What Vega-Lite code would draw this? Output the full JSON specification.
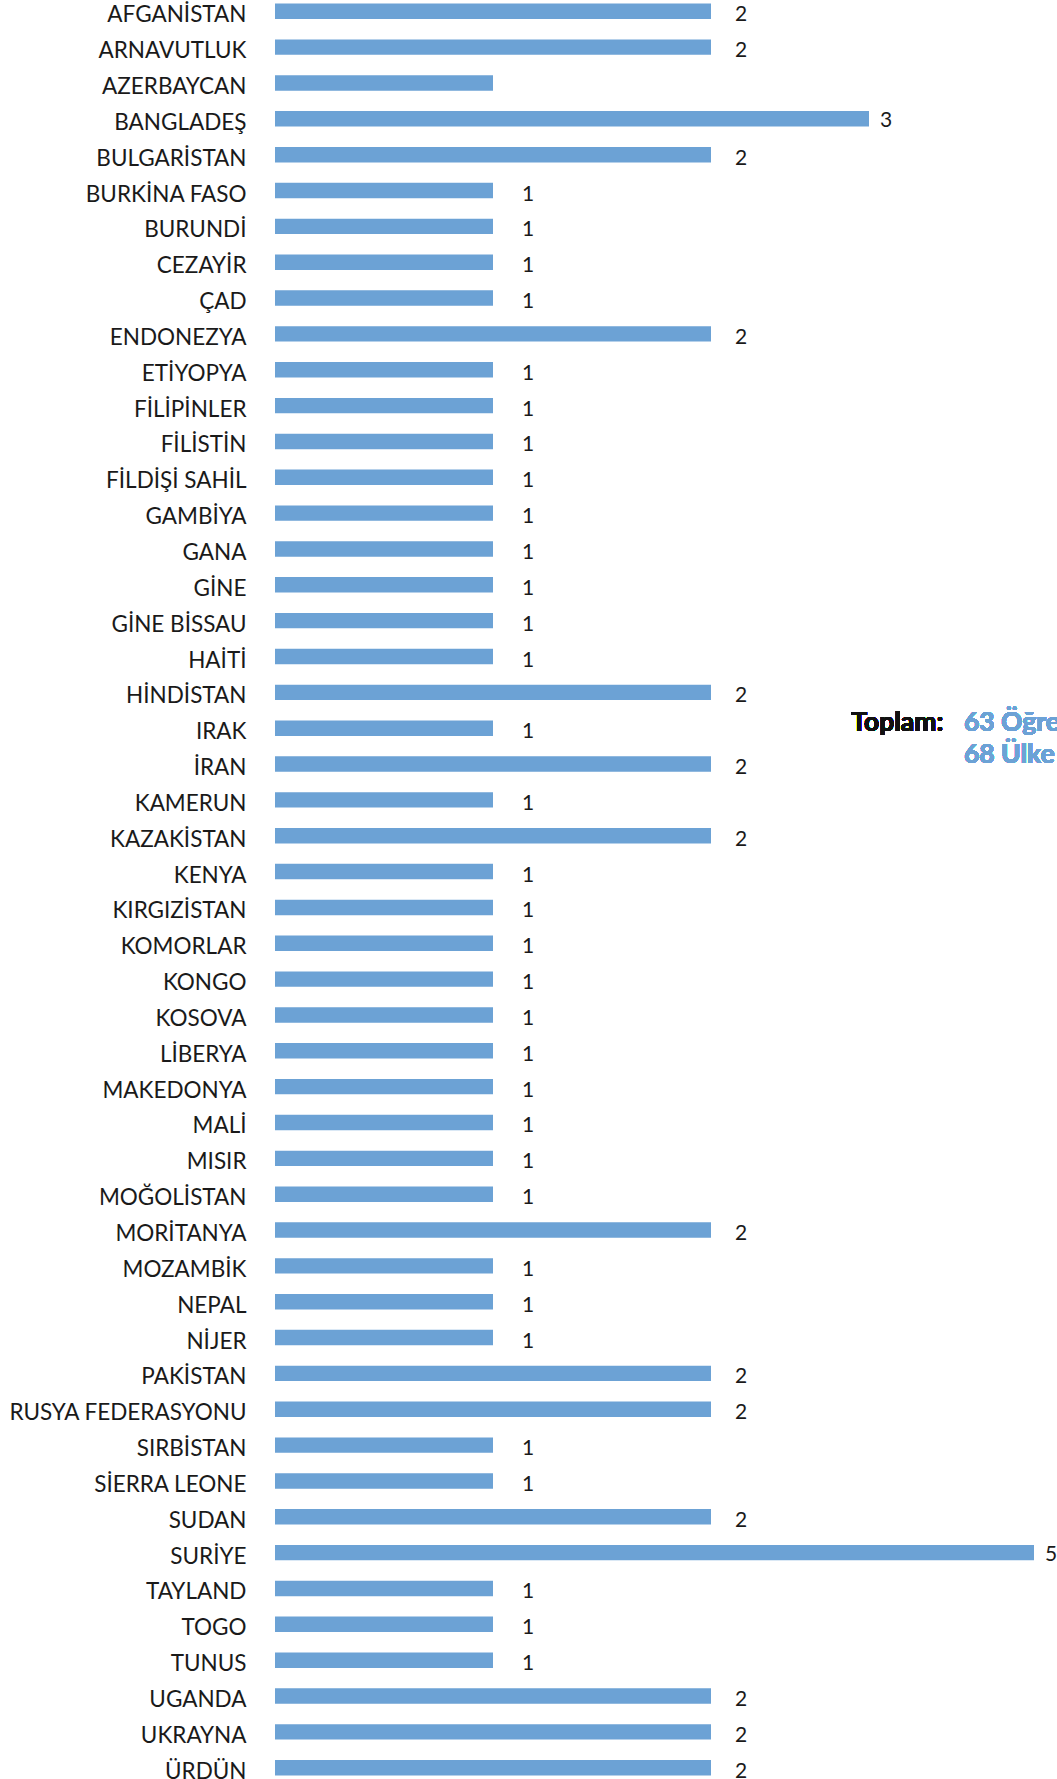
{
  "$schema": "https://vega.github.io/schema/vega-lite/v6.json",
  "width": 782,
  "height": 1779,
  "autosize": "none",
  "padding": {"left": 275, "top": 0, "right": 0, "bottom": 0},
  "background": "white",
  "config": {"view": {"stroke": null}, "font": "Lato"},
  "data": {"values": [
    {"ulke": "AFGANİSTAN", "deger": 2},
    {"ulke": "ARNAVUTLUK", "deger": 2},
    {"ulke": "AZERBAYCAN", "deger": 1},
    {"ulke": "BANGLADEŞ", "deger": 3},
    {"ulke": "BULGARİSTAN", "deger": 2},
    {"ulke": "BURKİNA FASO", "deger": 1},
    {"ulke": "BURUNDİ", "deger": 1},
    {"ulke": "CEZAYİR", "deger": 1},
    {"ulke": "ÇAD", "deger": 1},
    {"ulke": "ENDONEZYA", "deger": 2},
    {"ulke": "ETİYOPYA", "deger": 1},
    {"ulke": "FİLİPİNLER", "deger": 1},
    {"ulke": "FİLİSTİN", "deger": 1},
    {"ulke": "FİLDİŞİ SAHİL", "deger": 1},
    {"ulke": "GAMBİYA", "deger": 1},
    {"ulke": "GANA", "deger": 1},
    {"ulke": "GİNE", "deger": 1},
    {"ulke": "GİNE BİSSAU", "deger": 1},
    {"ulke": "HAİTİ", "deger": 1},
    {"ulke": "HİNDİSTAN", "deger": 2},
    {"ulke": "IRAK", "deger": 1},
    {"ulke": "İRAN", "deger": 2},
    {"ulke": "KAMERUN", "deger": 1},
    {"ulke": "KAZAKİSTAN", "deger": 2},
    {"ulke": "KENYA", "deger": 1},
    {"ulke": "KIRGIZİSTAN", "deger": 1},
    {"ulke": "KOMORLAR", "deger": 1},
    {"ulke": "KONGO", "deger": 1},
    {"ulke": "KOSOVA", "deger": 1},
    {"ulke": "LİBERYA", "deger": 1},
    {"ulke": "MAKEDONYA", "deger": 1},
    {"ulke": "MALİ", "deger": 1},
    {"ulke": "MISIR", "deger": 1},
    {"ulke": "MOĞOLİSTAN", "deger": 1},
    {"ulke": "MORİTANYA", "deger": 2},
    {"ulke": "MOZAMBİK", "deger": 1},
    {"ulke": "NEPAL", "deger": 1},
    {"ulke": "NİJER", "deger": 1},
    {"ulke": "PAKİSTAN", "deger": 2},
    {"ulke": "RUSYA FEDERASYONU", "deger": 2},
    {"ulke": "SIRBİSTAN", "deger": 1},
    {"ulke": "SİERRA LEONE", "deger": 1},
    {"ulke": "SUDAN", "deger": 2},
    {"ulke": "SURİYE", "deger": 5},
    {"ulke": "TAYLAND", "deger": 1},
    {"ulke": "TOGO", "deger": 1},
    {"ulke": "TUNUS", "deger": 1},
    {"ulke": "UGANDA", "deger": 2},
    {"ulke": "UKRAYNA", "deger": 2},
    {"ulke": "ÜRDÜN", "deger": 2}
  ]},
  "encoding": {
    "y": {
      "field": "ulke", "type": "nominal", "sort": null,
      "scale": {"paddingInner": 0.57, "paddingOuter": 0.1},
      "axis": {"title": null, "ticks": false, "domain": false, "labelPadding": 29, "labelFontSize": 22.5, "labelColor": "#1a1a1a", "labelFont": "Lato", "labelOffset": 4, "labelLimit": 400}
    }
  },
  "layer": [
    {
      "mark": {"type": "bar", "color": "#6CA2D5"},
      "encoding": {
        "x": {
          "field": "deger", "type": "quantitative",
          "scale": {"domain": [0, 2, 3, 5], "range": [0, 436, 594, 759], "nice": false, "zero": false},
          "axis": null
        }
      }
    },
    {
      "transform": [{"filter": "datum.deger == 1 && datum.ulke !== 'AZERBAYCAN'"}],
      "mark": {"type": "text", "align": "left", "baseline": "middle", "dx": 29, "dy": 4, "fontSize": 21, "color": "#1a1a1a"},
      "encoding": {
        "x": {"field": "deger", "type": "quantitative"},
        "text": {"field": "deger", "type": "quantitative"}
      }
    },
    {
      "transform": [{"filter": "datum.deger == 2"}],
      "mark": {"type": "text", "align": "left", "baseline": "middle", "dx": 24, "dy": 4, "fontSize": 21, "color": "#1a1a1a"},
      "encoding": {
        "x": {"field": "deger", "type": "quantitative"},
        "text": {"field": "deger", "type": "quantitative"}
      }
    },
    {
      "transform": [{"filter": "datum.deger >= 3"}],
      "mark": {"type": "text", "align": "left", "baseline": "middle", "dx": 11, "dy": 2, "fontSize": 21, "color": "#1a1a1a"},
      "encoding": {
        "x": {"field": "deger", "type": "quantitative"},
        "text": {"field": "deger", "type": "quantitative"}
      }
    },
    {
      "mark": {"type": "text", "align": "right", "baseline": "alphabetic", "dy": 3, "fontSize": 26.5, "fontWeight": "bold", "color": "#111111"},
      "encoding": {
        "x": {"datum": 3.9, "type": "quantitative"},
        "y": {"datum": "IRAK"},
        "text": {"value": "Toplam:"}
      }
    },
    {
      "mark": {"type": "text", "align": "left", "baseline": "alphabetic", "dy": 3, "fontSize": 26.5, "fontWeight": "bold", "color": "#6CA2D5"},
      "encoding": {
        "x": {"datum": 4.15, "type": "quantitative"},
        "y": {"datum": "IRAK"},
        "text": {"value": "63 Öğrenci"}
      }
    },
    {
      "mark": {"type": "text", "align": "left", "baseline": "alphabetic", "dy": -1, "fontSize": 26.5, "fontWeight": "bold", "color": "#6CA2D5"},
      "encoding": {
        "x": {"datum": 4.15, "type": "quantitative"},
        "y": {"datum": "İRAN"},
        "text": {"value": "68 Ülke"}
      }
    }
  ]
}
